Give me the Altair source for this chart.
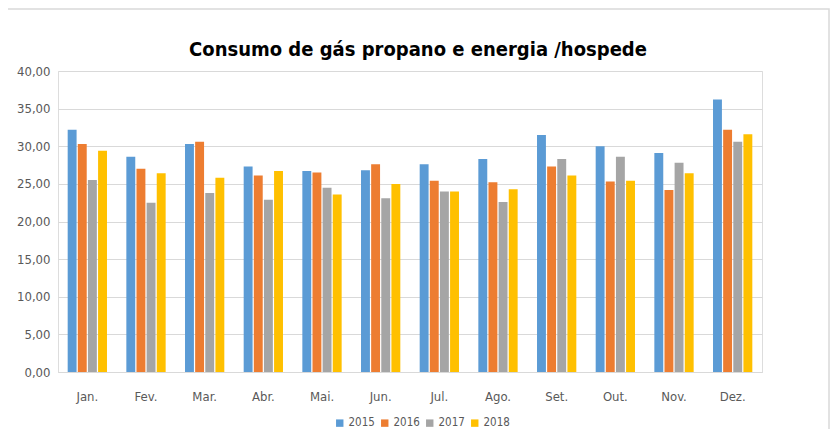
import altair as alt
import pandas as pd

months = ["Jan.", "Fev.", "Mar.", "Abr.", "Mai.", "Jun.", "Jul.", "Ago.", "Set.", "Out.", "Nov.", "Dez."]
years = ["2015", "2016", "2017", "2018"]
v2015 = [32.2, 28.6, 30.3, 27.3, 26.7, 26.8, 27.6, 28.3, 31.5, 30.0, 29.1, 36.2]
v2016 = [30.3, 27.0, 30.6, 26.1, 26.5, 27.6, 25.4, 25.2, 27.3, 25.3, 24.2, 32.2]
v2017 = [25.5, 22.5, 23.8, 22.9, 24.5, 23.1, 24.0, 22.6, 28.3, 28.6, 27.8, 30.6]
v2018 = [29.4, 26.4, 25.8, 26.7, 23.6, 25.0, 24.0, 24.3, 26.1, 25.4, 26.4, 31.6]
colors = ["#5B9BD5", "#ED7D31", "#A5A5A5", "#FFC000"]

rows = []
for y, vals in zip(years, [v2015, v2016, v2017, v2018]):
    for m, v in zip(months, vals):
        rows.append({"mes": m, "ano": y, "valor": v})
df = pd.DataFrame(rows)

FONT = "'DejaVu Sans Condensed', 'Liberation Sans Narrow', 'Liberation Sans', sans-serif"

bars = alt.Chart(df).mark_bar().encode(
    x=alt.X("mes:N", sort=months, title=None,
            scale=alt.Scale(paddingInner=0.33, paddingOuter=0.165),
            axis=alt.Axis(labelAngle=0, ticks=False, labelPadding=18, labelFontSize=13,
                          labelColor="#595959", labelFont=FONT, domainColor="#d9d9d9",
                          grid=False)),
    xOffset=alt.XOffset("ano:N", sort=years, scale=alt.Scale(paddingInner=0.12)),
    y=alt.Y("valor:Q", title=None,
            scale=alt.Scale(domain=[0, 40]),
            axis=alt.Axis(values=[0, 5, 10, 15, 20, 25, 30, 35, 40], domain=False, ticks=False,
                          labelExpr="replace(format(datum.value, '.2f'), '.', ',')",
                          labelFontSize=13, labelColor="#595959", labelFont=FONT,
                          labelPadding=8, gridColor="#d9d9d9")),
    color=alt.Color("ano:N", sort=years, scale=alt.Scale(domain=years, range=colors),
                    legend=alt.Legend(title=None, orient="none", legendX=276, legendY=346,
                                      direction="horizontal",
                                      symbolType="square", symbolSize=55, labelFontSize=11.5,
                                      labelFont=FONT, labelColor="#595959", columnPadding=4,
                                      symbolStrokeWidth=0, labelOffset=3)),
)

frame = alt.Chart(pd.DataFrame({"f": [0]})).mark_rect(
    fill=None, stroke="#d9d9d9", strokeWidth=1.5
).encode(
    x=alt.value(-52), x2=alt.value(771), y=alt.value(-62), y2=alt.value(400)
)

chart = alt.layer(frame, bars).properties(
    width=704,
    height=301,
    padding={"left": 50, "top": 63, "right": 68, "bottom": 57},
    autosize=alt.AutoSizeParams(type="none"),
    title=alt.TitleParams("Consumo de gás propano e energia /hospede", font=FONT,
                          fontSize=20, fontWeight="bold", color="#000000",
                          anchor="middle", offset=9, dx=8, dy=61),
).configure_view(stroke=None).configure(background="white")

chart.save("out.html", embed_options={"renderer": "svg", "actions": False})
